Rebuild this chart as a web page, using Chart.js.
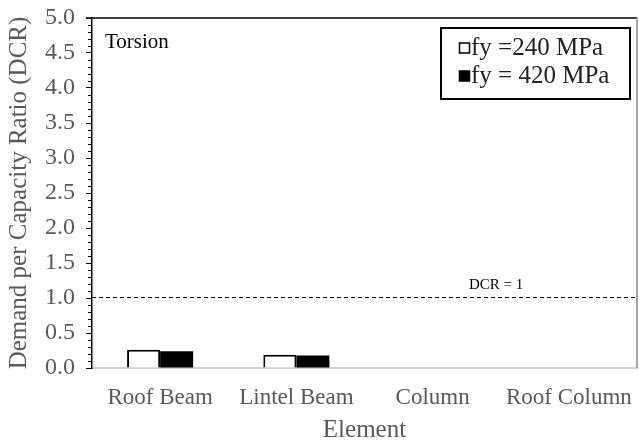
<!DOCTYPE html>
<html>
<head>
<meta charset="utf-8">
<script src="https://cdn.jsdelivr.net/npm/chart.js@4.4.1/dist/chart.umd.min.js"></script>
<style>
  html, body { margin: 0; padding: 0; background: #fff; }
  #wrap { width: 639px; height: 445px; }
</style>
</head>
<body>
<div id="wrap"><canvas id="c" width="639" height="445"></canvas></div>
<script>
// Torsion demand/capacity ratios by structural element
const categories = ['Roof Beam', 'Lintel Beam', 'Column', 'Roof Column'];
const seriesLabels = ['fy =240 MPa', 'fy = 420 MPa'];
const dcr240 = [0.26, 0.19, 0, 0];
const dcr420 = [0.24, 0.18, 0, 0];
const yTicks = [0, 0.5, 1, 1.5, 2, 2.5, 3, 3.5, 4, 4.5, 5];
const dcrLimit = 1;
const panelTitle = 'Torsion';

const SERIF = '"Liberation Serif", "Times New Roman", serif';

// Frame, minor ticks, DCR limit line, panel title and boxed legend
const decorations = {
  id: 'decorations',
  afterDraw(chart) {
    const { ctx, chartArea: a, scales: { y } } = chart;
    ctx.save();
    // minor ticks every 0.1 on the value axis
    ctx.strokeStyle = '#000';
    ctx.lineWidth = 1;
    for (let i = 0; i <= 50; i++) {
      if (i % 5 === 0) continue;
      const py = Math.round(y.getPixelForValue(i / 10)) + 0.5;
      ctx.beginPath();
      ctx.moveTo(a.left - 4, py);
      ctx.lineTo(a.left, py);
      ctx.stroke();
    }
    // top frame line
    ctx.strokeStyle = '#000';
    ctx.lineWidth = 1.5;
    ctx.beginPath();
    ctx.moveTo(a.left - 6, a.top);
    ctx.lineTo(a.right, a.top);
    ctx.stroke();
    // right frame line
    ctx.strokeStyle = '#8c8c8c';
    ctx.lineWidth = 1.5;
    ctx.beginPath();
    ctx.moveTo(a.right, a.top);
    ctx.lineTo(a.right, a.bottom);
    ctx.stroke();

    // DCR = 1 dashed limit
    const ly = Math.round(y.getPixelForValue(dcrLimit)) - 0.5;
    ctx.strokeStyle = '#000';
    ctx.lineWidth = 1;
    ctx.setLineDash([4, 3]);
    ctx.beginPath();
    ctx.moveTo(a.left, ly);
    ctx.lineTo(a.right, ly);
    ctx.stroke();
    ctx.setLineDash([]);
    ctx.fillStyle = '#000';
    ctx.font = '15px ' + SERIF;
    ctx.textAlign = 'left';
    ctx.textBaseline = 'alphabetic';
    ctx.fillText('DCR = ' + dcrLimit, 469, ly - 9);

    // panel title
    ctx.font = '21px ' + SERIF;
    ctx.fillText(panelTitle, 105, 48);

    // legend box
    ctx.lineWidth = 2;
    ctx.strokeStyle = '#000';
    ctx.strokeRect(441, 28, 189, 71);
    ctx.font = '25px ' + SERIF;
    const ds = chart.data.datasets;
    const rows = [48, 76];
    ds.forEach((d, i) => {
      const cy = rows[i];
      ctx.fillStyle = d.backgroundColor;
      ctx.fillRect(459.5, cy - 5, 10, 10);
      ctx.lineWidth = 1.5;
      ctx.strokeStyle = '#000';
      ctx.strokeRect(459.5, cy - 5, 10, 10);
      ctx.fillStyle = '#222';
      ctx.textBaseline = 'middle';
      ctx.fillText(d.label, 471, cy);
    });
    ctx.restore();
  }
};

new Chart(document.getElementById('c'), {
  type: 'bar',
  data: {
    labels: categories,
    datasets: [
      { label: seriesLabels[0], data: dcr240, backgroundColor: '#ffffff', borderColor: '#000000', borderWidth: 2, borderSkipped: 'bottom' },
      { label: seriesLabels[1], data: dcr420, backgroundColor: '#000000', borderColor: '#000000', borderWidth: 0 }
    ]
  },
  options: {
    responsive: false,
    animation: false,
    layout: { padding: { top: 18, right: 2, left: 0, bottom: 0 } },
    datasets: { bar: { barPercentage: 1, categoryPercentage: 0.485 } },
    plugins: { legend: { display: false }, tooltip: { enabled: false } },
    scales: {
      x: {
        afterFit(scale) { scale.height = 77; scale.paddingLeft = 0; scale.paddingRight = 0; },
        grid: { display: false, drawTicks: false },
        border: { display: true, color: '#d0d0d0', width: 2 },
        ticks: { color: '#595959', font: { family: SERIF, size: 23 }, padding: 16 },
        title: { display: true, text: 'Element', color: '#595959', font: { family: SERIF, size: 25 }, padding: { top: 0, bottom: 0 } }
      },
      y: {
        min: 0, max: 5,
        afterFit(scale) { scale.width = 92; scale.paddingTop = 0; scale.paddingBottom = 0; },
        afterBuildTicks(scale) { scale.ticks = yTicks.map(v => ({ value: v })); },
        grid: { display: true, drawOnChartArea: false, drawTicks: true, tickLength: 6, color: '#000' },
        border: { display: true, color: '#000', width: 1.5 },
        ticks: {
          color: '#595959', font: { family: SERIF, size: 24 }, padding: 11,
          callback: v => Number(v).toFixed(1)
        },
        title: { display: true, text: 'Demand per Capacity Ratio (DCR)', color: '#595959', font: { family: SERIF, size: 25 }, padding: { top: 4, bottom: 0 } }
      }
    }
  },
  plugins: [decorations]
});
</script>
</body>
</html>
